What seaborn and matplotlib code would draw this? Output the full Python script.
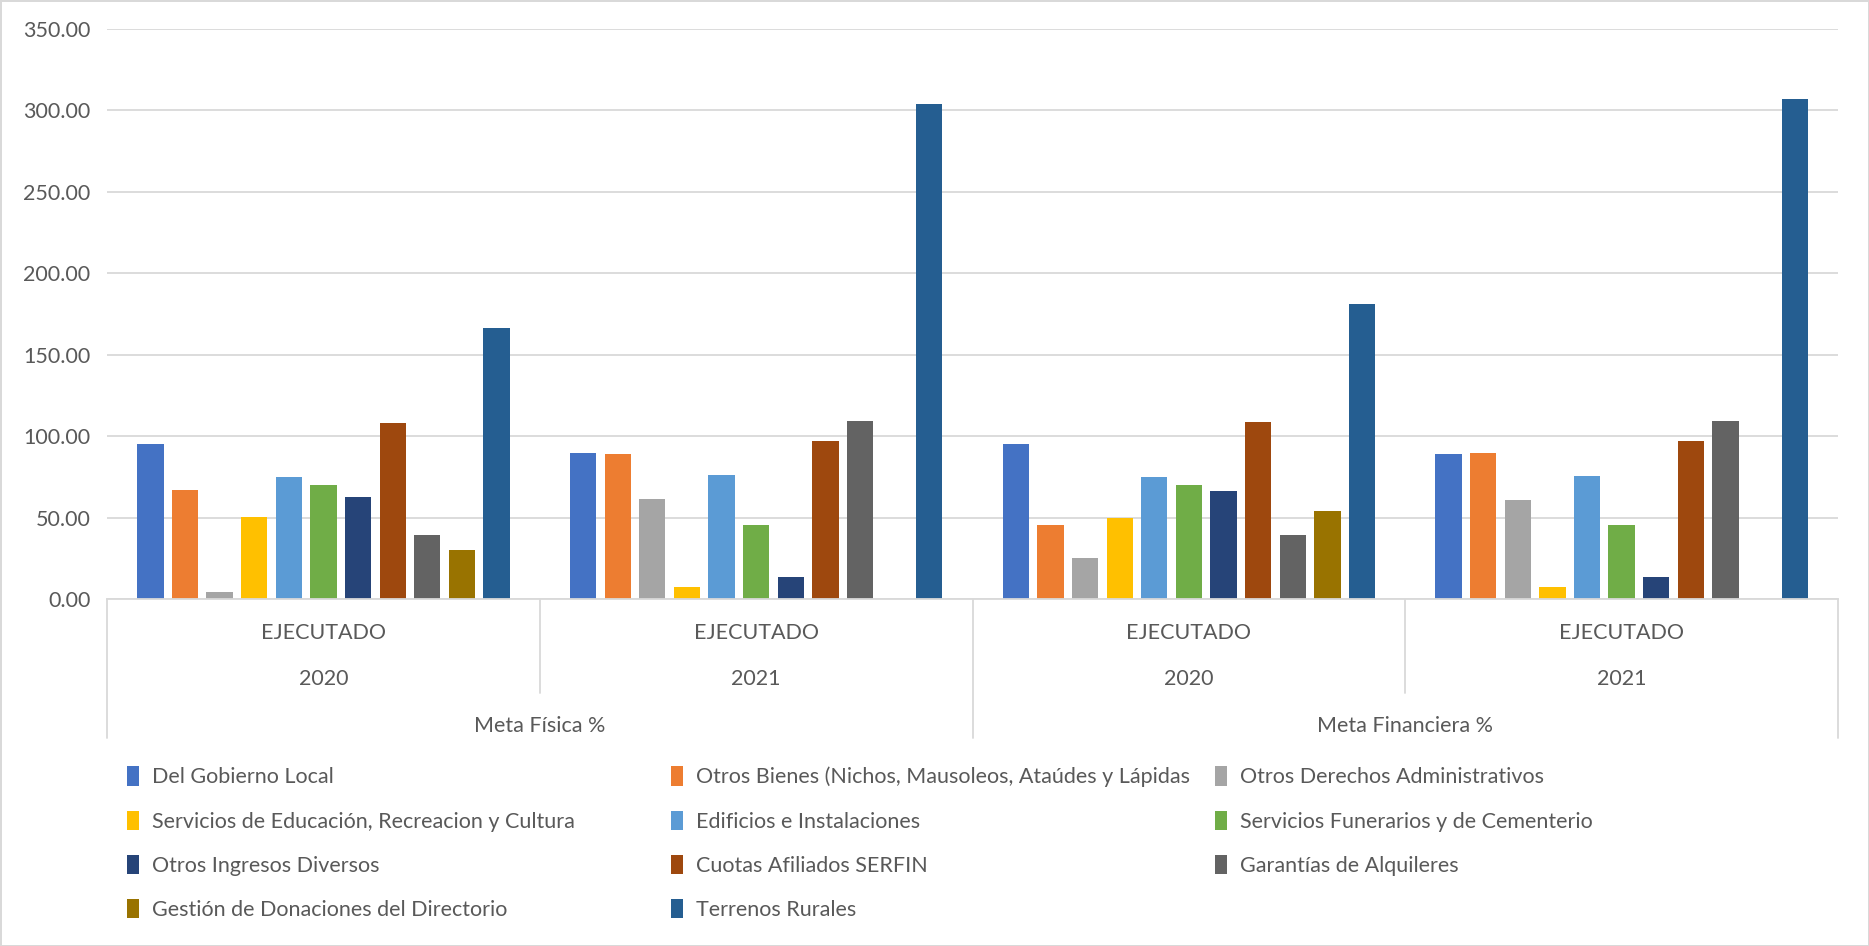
import numpy as np
import pandas as pd
import matplotlib
matplotlib.use("Agg")
import matplotlib.pyplot as plt
import matplotlib.transforms as mtrans
import seaborn as sns

# series (hue) names and colors
rubros = ["Del Gobierno Local",
          "Otros Bienes (Nichos, Mausoleos, Ataúdes y Lápidas",
          "Otros Derechos Administrativos",
          "Servicios de Educación, Recreacion y Cultura",
          "Edificios e Instalaciones",
          "Servicios Funerarios y de Cementerio",
          "Otros Ingresos Diversos",
          "Cuotas Afiliados SERFIN",
          "Garantías de Alquileres",
          "Gestión de Donaciones del Directorio",
          "Terrenos Rurales"]
colores = ["#4472C4", "#ED7D31", "#A5A5A5", "#FFC000", "#5B9BD5", "#70AD47",
           "#264478", "#9E480E", "#636363", "#997300", "#255E91"]

# categories (3 levels)
grupos = ["Meta Física %", "Meta Física %", "Meta Financiera %", "Meta Financiera %"]
anios = ["2020", "2021", "2020", "2021"]
estado = ["EJECUTADO", "EJECUTADO", "EJECUTADO", "EJECUTADO"]

# values per category (None = no bar)
fisica_2020 = [95.3, 67.1, 4.1, 50.2, 74.6, 69.8, 62.5, 108.1, 39.5, 29.8, 166.3]
fisica_2021 = [89.7, 89.2, 61.1, 7.5, 76.1, 45.6, 13.3, 96.7, 109.5, None, 303.7]
financ_2020 = [94.8, 45.3, 25.2, 49.7, 74.6, 70.0, 66.2, 108.8, 39.5, 54.3, 181.0]
financ_2021 = [89.2, 89.4, 60.8, 7.5, 75.6, 45.3, 13.3, 96.7, 109.1, None, 306.8]

valores = [fisica_2020, fisica_2021, financ_2020, financ_2021]
cat_ids = ["c0", "c1", "c2", "c3"]

rows = []
for cid, serie in zip(cat_ids, valores):
    for r, v in zip(rubros, serie):
        if v is not None:
            rows.append({"cat": cid, "rubro": r, "valor": v})
df = pd.DataFrame(rows)

sns.set_style("white")
plt.rcParams["font.family"] = ["Lato", "DejaVu Sans"]
txt_color = "#595959"
grid_color = "#D9D9D9"
fs = 15.5

fig = plt.figure(figsize=(18.69, 9.46), dpi=100)
ax = fig.add_axes([0.0573, 0.3668, 0.9261, 0.603])

sns.barplot(data=df, x="cat", y="valor", hue="rubro", order=cat_ids,
            hue_order=rubros, palette=colores, width=0.88, gap=0.24,
            linewidth=0, saturation=1, ax=ax, errorbar=None)

ax.set_ylim(0, 350)
ax.set_xlim(-0.5, 3.5)
ax.set_yticks(np.arange(0, 351, 50))
ax.set_yticklabels([f"{t:.2f}" for t in np.arange(0, 351, 50)],
                   color=txt_color, fontsize=fs)
ax.tick_params(axis="y", length=0, pad=12)
ax.tick_params(axis="x", length=0)
ax.set_xticklabels([])
ax.set_xlabel("")
ax.set_ylabel("")
ax.yaxis.grid(True, color=grid_color, linewidth=1.3)
ax.set_axisbelow(True)
for s in ["left", "right", "top"]:
    ax.spines[s].set_visible(False)
ax.spines["bottom"].set_color(grid_color)
ax.spines["bottom"].set_linewidth(1.3)

# multi-level category axis
tr = mtrans.blended_transform_factory(ax.transData, ax.transAxes)
for xb in [-0.5, 1.5, 3.5]:
    ax.plot([xb, xb], [0, -0.244], transform=tr, color=grid_color,
            lw=1.3, clip_on=False)
for xb in [0.5, 2.5]:
    ax.plot([xb, xb], [0, -0.165], transform=tr, color=grid_color,
            lw=1.3, clip_on=False)
for i in range(4):
    ax.text(i, -0.06, estado[i], transform=tr, ha="center", va="center",
            fontsize=fs, color=txt_color)
    ax.text(i, -0.141, anios[i], transform=tr, ha="center", va="center",
            fontsize=fs, color=txt_color)
for i, g in [(0.5, grupos[0]), (2.5, grupos[2])]:
    ax.text(i, -0.222, g, transform=tr, ha="center", va="center",
            fontsize=fs, color=txt_color)

# legend laid out row by row in 3 columns
leg = ax.get_legend()
handles = leg.legend_handles
labels = [t.get_text() for t in leg.get_texts()]
leg.remove()
col_x = [0.068, 0.359, 0.650]
for c in range(3):
    idx = list(range(c, len(labels), 3))
    fig.legend([handles[i] for i in idx], [labels[i] for i in idx],
               loc="upper left", bbox_to_anchor=(col_x[c], 0.19),
               frameon=False, fontsize=fs, labelcolor=txt_color,
               handlelength=0.55, handleheight=1.0, handletextpad=0.6,
               labelspacing=1.08, borderaxespad=0, borderpad=0)

fig.patch.set_edgecolor(grid_color)
fig.patch.set_linewidth(2)
fig.savefig("out.png", dpi=100, edgecolor=fig.get_edgecolor())
